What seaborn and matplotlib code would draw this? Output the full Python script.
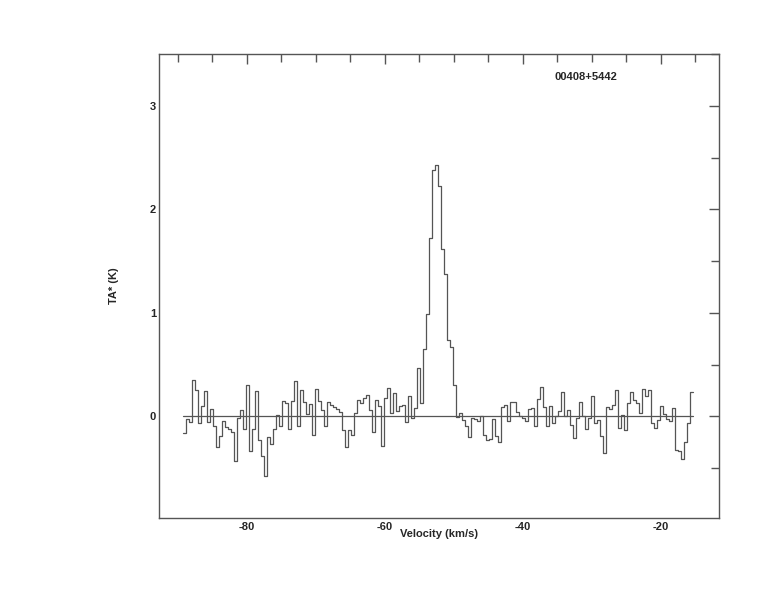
import numpy as np
import pandas as pd
import matplotlib
matplotlib.use("Agg")
import matplotlib.pyplot as plt
from matplotlib.ticker import MultipleLocator
import seaborn as sns

# ==========================
# spectrum data
# ==========================
source_name = "00408+5442"
v_start = -89.23      # left edge of first channel (km/s)
dv = 0.435            # channel width (km/s)

ta = [
    -0.16, -0.03, -0.06, 0.35, 0.25, -0.07, 0.10, 0.24, -0.06, 0.07,
    -0.09, -0.30, -0.19, -0.05, -0.10, -0.12, -0.15, -0.43, -0.02, 0.06,
    -0.12, 0.30, -0.34, -0.12, 0.24, -0.23, -0.38, -0.58, -0.20, -0.27,
    -0.12, 0.01, -0.09,
    0.15, 0.13, -0.12, 0.15, 0.34, -0.09, 0.25, 0.14, 0.02, 0.12,
    -0.18, 0.26, 0.15, 0.06, -0.09, 0.14, 0.11, 0.09, 0.07, 0.04,
    -0.13, -0.30, -0.13, -0.18, 0.03, 0.16, 0.13, 0.18, 0.21, 0.06,
    -0.15, 0.16, 0.10, -0.29,
    0.18, 0.27, 0.03, 0.22, 0.05, 0.10, 0.11, -0.06, 0.20, -0.02,
    0.08, 0.47, 0.13, 0.65, 0.99, 1.72, 2.38, 2.43, 2.23, 1.62,
    1.38, 0.74, 0.67, 0.30, -0.01, 0.03, -0.04, -0.09, -0.20, -0.02,
    -0.03, -0.05,
    0.00, -0.18, -0.23, -0.22, -0.03, -0.19, -0.25, 0.09, 0.11, -0.05,
    0.14, 0.14, 0.04, 0.00, -0.02, -0.05, 0.07, 0.08, -0.09, 0.17,
    0.28, 0.09, -0.09, 0.10, -0.07, 0.00, 0.05, 0.23, 0.00, 0.06,
    -0.08, -0.21, -0.02, 0.14,
    0.00, -0.12, -0.02, 0.20, -0.07, -0.04, -0.19, -0.36, 0.09, 0.07,
    0.11, 0.25, -0.11, 0.01, -0.13, 0.13, 0.23, 0.16, 0.13, 0.03,
    0.26, 0.20, 0.25, -0.07, -0.11, -0.04, 0.10, 0.02, -0.03, -0.05,
    0.08, -0.33, -0.34, -0.41, -0.25, -0.07, 0.23,
]

edges = v_start + dv * np.arange(len(ta) + 1)
df = pd.DataFrame({"vel": edges, "ta": ta + [ta[-1]]})

# ==========================
# plot
# ==========================
sns.set_style("white")
plt.rcParams["font.family"] = ["Liberation Sans", "DejaVu Sans"]
plt.rcParams["font.weight"] = "bold"
plt.rcParams["axes.unicode_minus"] = False

line_col = "#555555"
fig = plt.figure(figsize=(7.74, 6.12), dpi=100)
ax = fig.add_axes([0.2054, 0.1541, 0.7239, 0.7572])

sns.lineplot(data=df, x="vel", y="ta", drawstyle="steps-post",
             estimator=None, sort=False, color=line_col, linewidth=0.9, ax=ax)
ax.plot([edges[0], edges[-1]], [0, 0], color=line_col, linewidth=0.9)

ax.set_xlim(-92.71, -11.51)
ax.set_ylim(-0.981, 3.50)

ax.xaxis.set_major_locator(MultipleLocator(20))
ax.xaxis.set_minor_locator(MultipleLocator(5))
ax.yaxis.set_major_locator(MultipleLocator(1))
ax.yaxis.set_minor_locator(MultipleLocator(0.5))
ax.tick_params(which="both", direction="in", top=True, right=True,
               color=line_col, width=1.0, labelsize=8)
ax.tick_params(which="major", length=7.5)
ax.tick_params(which="minor", length=5.5)
ax.tick_params(axis="x", pad=3)
ax.tick_params(axis="y", pad=2)
for sp in ax.spines.values():
    sp.set_color(line_col)
    sp.set_linewidth(1.0)

ax.set_xlabel("Velocity (km/s)", fontsize=8, fontweight="bold")
ax.set_ylabel("TA* (K)", fontsize=8, fontweight="bold")
ax.xaxis.set_label_coords(0.5, -0.024)
ax.yaxis.set_label_coords(-0.072, 0.5)

ax.text(-35.46, 3.284, source_name, fontsize=8, fontweight="bold",
        ha="left", va="center")

fig.savefig("out.png", dpi=100)
